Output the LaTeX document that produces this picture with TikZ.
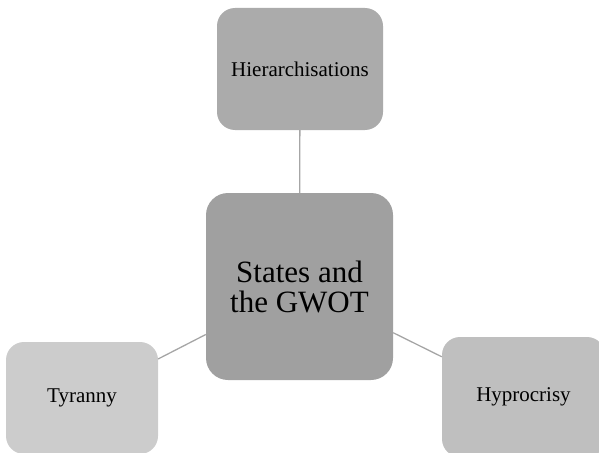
\documentclass[tikz,border=0pt]{standalone}
\usepackage{fontspec}
\setmainfont{Liberation Serif}
\begin{document}
\begin{tikzpicture}[x=1pt,y=-1pt,
  box/.style={rectangle, rounded corners=18pt, inner sep=0pt, align=center, text=black},
  link/.style={draw=linkgray, line width=1.3pt}]
\definecolor{linkgray}{HTML}{A6A6A6}
\definecolor{topgray}{HTML}{ABABAB}
\definecolor{midgray}{HTML}{A0A0A0}
\definecolor{leftgray}{HTML}{CCCCCC}
\definecolor{rightgray}{HTML}{BFBFBF}
\useasboundingbox (0,0) rectangle (599,452);
\clip (0,0) rectangle (599,452);
\node[box, fill=topgray, minimum width=166pt, minimum height=122pt, font=\fontsize{21}{24}\selectfont] (top) at (300,69) {Hierarchisations};
\node[box, fill=midgray, rounded corners=22pt, minimum width=187pt, minimum height=187pt, font=\fontsize{31}{30}\selectfont] (ctr) at (299.5,286.5) {States and\\the GWOT};
\node[box, fill=leftgray, minimum width=152pt, minimum height=112pt, font=\fontsize{21}{24}\selectfont] (tyr) at (82,398) {Tyranny};
\node[box, fill=rightgray, minimum width=163pt, minimum height=120pt, font=\fontsize{21}{24}\selectfont] (hyp) at (523.5,397) {Hyprocrisy};
\draw[link] (top) -- (ctr);
\draw[link] (tyr) -- (ctr);
\draw[link] (ctr) -- (hyp);
\end{tikzpicture}
\end{document}
